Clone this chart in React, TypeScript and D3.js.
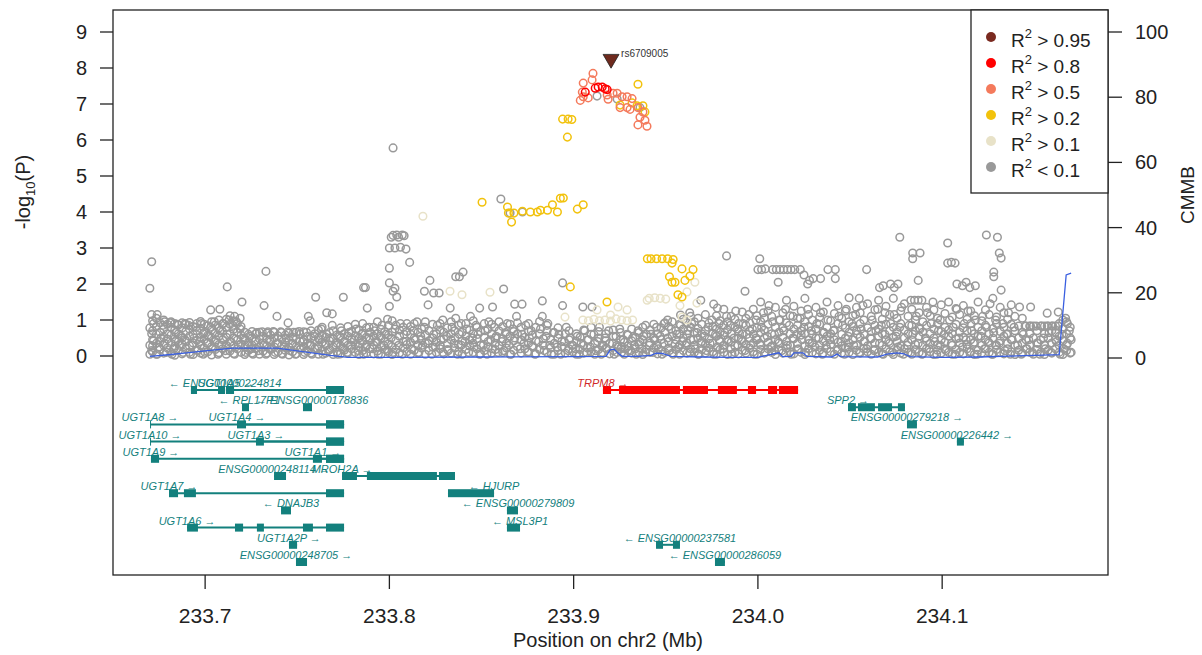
import React from "react";
import * as d3 from "d3";

// ---------- DATA ----------
// x in Mb (chr2), y in -log10(P)
const grayPts: [number, number][] = [
  [233.670,0.05],[233.671,0.15],[233.670,0.3],[233.672,0.42],[233.671,0.62],[233.670,0.78],[233.672,0.9],[233.671,1.15],[233.670,1.88],[233.671,2.62],[233.674,1.15],[233.674,0.05],[233.675,0.25],[233.676,0.5],[233.677,0.85],[233.678,0.95],[233.679,0.1],[233.678,0.35],
  [233.681,0.92],[233.682,0.05],[233.683,0.2],[233.684,0.4],[233.685,0.88],[233.686,0.3],[233.687,0.55],[233.688,0.1],[233.689,0.9],[233.689,0.45],[233.684,0.65],
  [233.691,0.85],[233.692,0.05],[233.693,0.3],[233.694,0.5],[233.695,0.8],[233.696,0.15],[233.697,0.4],[233.698,0.9],[233.699,0.62],[233.699,0.05],
  [233.700,0.1],[233.701,0.35],[233.702,0.55],[233.703,0.8],[233.703,1.28],[233.704,0.2],[233.705,0.95],[233.706,0.45],[233.707,0.05],[233.708,0.7],[233.708,1.3],[233.709,0.3],[233.710,0.9],
  [233.711,0.15],[233.712,1.92],[233.712,0.6],[233.713,1.0],[233.714,0.4],[233.715,0.85],[233.716,1.1],[233.716,0.05],[233.717,0.95],[233.718,0.3],[233.719,0.75],[233.719,1.05],[233.720,1.5],
  [233.721,0.5],[233.722,0.1],[233.723,0.3],[233.724,0.55],[233.725,0.2],[233.726,0.05],[233.727,0.4],[233.728,0.65],[233.729,0.15],
  [233.731,0.67],[233.732,1.4],[233.733,2.35],[233.732,0.3],[233.733,0.05],[233.734,0.67],[233.735,0.45],[233.736,0.2],[233.737,0.68],[233.738,0.1],[233.739,1.1],[233.739,0.35],
  [233.741,0.67],[233.742,0.05],[233.743,0.25],[233.744,0.5],[233.745,0.92],[233.745,0.67],[233.746,0.15],[233.747,0.35],[233.748,0.66],[233.749,0.05],
  [233.751,0.68],[233.752,0.2],[233.753,0.4],[233.754,0.1],[233.755,0.66],[233.756,1.1],[233.757,0.98],[233.757,0.3],[233.758,0.05],[233.759,0.55],[233.760,1.63],
  [233.761,0.2],[233.762,0.45],[233.763,0.75],[233.764,0.05],[233.765,0.35],[233.766,1.2],[233.766,0.6],[233.767,0.15],[233.768,0.5],[233.769,1.17],[233.769,0.85],
  [233.771,0.3],[233.772,0.05],[233.773,0.55],[233.774,0.7],[233.775,1.63],[233.775,0.2],[233.776,0.4],[233.777,0.1],[233.778,0.65],[233.779,0.3],
  [233.781,0.45],[233.782,0.75],[233.783,0.15],[233.784,0.35],[233.785,0.6],[233.786,1.9],[233.787,1.9],[233.788,1.33],[233.786,0.05],[233.787,0.25],[233.789,0.8],[233.789,0.5],
  [233.791,0.2],[233.792,0.7],[233.793,0.4],[233.794,0.05],[233.795,0.55],[233.796,0.85],[233.797,0.3],[233.798,0.6],[233.799,1.02],[233.799,0.15],
  [233.800,1.38],[233.800,2.03],[233.800,2.44],[233.800,3.0],[233.801,3.3],[233.802,3.35],[233.803,3.0],[233.804,3.36],[233.805,3.3],[233.806,3.02],[233.807,3.36],[233.808,3.34],[233.802,5.78],[233.803,1.88],[233.804,1.64],[233.802,1.8],[233.801,0.5],[233.802,0.1],[233.803,0.75],[233.805,0.3],[233.806,0.9],[233.807,0.05],[233.808,0.6],[233.809,0.4],[233.809,2.97],
  [233.811,2.6],[233.812,0.2],[233.813,0.7],[233.814,0.45],[233.815,0.95],[233.816,0.1],[233.817,0.55],[233.818,0.3],[233.819,1.8],[233.819,0.8],
  [233.821,1.42],[233.822,2.1],[233.824,1.75],[233.827,1.75],[233.821,0.35],[233.823,0.05],[233.824,0.6],[233.825,0.25],[233.826,0.85],[233.828,0.45],[233.829,0.1],[233.829,1.0],
  [233.833,1.33],[233.836,2.2],[233.838,2.2],[233.831,0.55],[233.832,0.15],[233.834,0.8],[233.835,0.35],[233.836,1.05],[233.837,0.05],[233.838,0.6],[233.839,0.3],[233.839,0.9],
  [233.840,2.33],[233.841,0.4],[233.842,0.75],[233.843,0.1],[233.844,1.1],[233.845,0.5],[233.846,0.25],[233.847,0.85],[233.848,0.6],[233.849,0.05],[233.849,1.33],
  [233.851,0.3],[233.852,0.7],[233.853,0.05],[233.854,0.95],[233.855,0.45],[233.856,1.36],[233.856,0.2],[233.857,0.8],[233.858,0.55],[233.859,0.1],
  [233.862,1.86],[233.868,1.44],[233.869,1.1],[233.861,0.4],[233.862,0.15],[233.863,0.65],[233.864,0.9],[233.865,0.3],[233.866,0.05],[233.867,0.75],[233.868,0.5],
  [233.872,1.44],[233.871,0.2],[233.872,0.6],[233.873,0.35],[233.874,0.85],[233.875,0.1],[233.876,0.5],[233.877,0.7],[233.878,0.25],[233.879,0.05],
  [233.883,1.53],[233.883,1.1],[233.881,0.4],[233.882,0.75],[233.884,0.15],[233.885,0.55],[233.886,0.9],[233.887,0.3],[233.888,0.05],[233.889,0.65],
  [233.894,2.03],[233.894,1.4],[233.891,0.25],[233.892,0.6],[233.893,0.05],[233.895,0.4],[233.896,0.8],[233.897,0.15],[233.898,0.5],[233.899,0.3],
  [233.905,1.36],[233.901,0.2],[233.902,0.55],[233.903,0.05],[233.904,0.35],[233.906,0.7],[233.907,0.1],[233.908,0.45],[233.909,0.25],
  [233.910,1.36],[233.911,0.6],[233.912,0.15],[233.913,0.4],[233.914,0.8],[233.915,0.05],[233.916,0.3],[233.917,0.5],[233.918,0.2],[233.919,0.7],
  [233.921,0.35],[233.922,0.05],[233.923,0.55],[233.924,0.25],[233.925,0.75],[233.926,0.1],[233.927,0.45],[233.928,0.2],[233.929,0.6],[233.926,0.25],
  [233.931,0.15],[233.932,0.5],[233.933,0.3],[233.934,0.05],[233.935,0.7],[233.936,0.4],[233.937,0.2],[233.938,0.55],[233.939,0.1],[233.939,0.85],
  [233.941,0.3],[233.942,0.6],[233.943,0.1],[233.944,0.45],[233.945,0.8],[233.946,0.2],[233.947,0.55],[233.948,0.05],[233.949,0.35],[233.949,0.9],
  [233.958,1.14],[233.955,0.33],[233.951,0.5],[233.952,0.15],[233.953,0.75],[233.954,0.05],[233.956,0.6],[233.957,0.25],[233.958,0.85],[233.959,0.4],[233.951,1.0],
  [233.969,1.55],[233.961,0.3],[233.962,0.7],[233.963,0.1],[233.964,0.9],[233.965,0.45],[233.966,0.2],[233.967,0.65],[233.968,0.05],[233.969,0.35],[233.963,1.2],
  [233.976,1.44],[233.978,1.33],[233.971,0.55],[233.972,0.15],[233.973,0.8],[233.974,0.35],[233.975,1.0],[233.976,0.05],[233.977,0.6],[233.978,0.25],[233.979,0.9],[233.979,0.45],
  [233.983,2.78],[233.981,0.2],[233.982,0.65],[233.983,1.1],[233.984,0.4],[233.985,0.85],[233.986,0.05],[233.987,0.5],[233.988,1.25],[233.989,0.3],[233.989,0.75],
  [233.993,1.8],[233.991,0.45],[233.992,0.9],[233.993,0.15],[233.994,0.6],[233.995,1.15],[233.996,0.3],[233.997,0.75],[233.998,0.05],[233.999,0.5],[233.999,1.0],
  [234.001,2.7],[234.000,2.4],[234.002,2.4],[234.004,2.42],[234.008,2.4],[234.001,0.35],[234.002,0.8],[234.003,1.2],[234.004,0.1],[234.005,0.55],[234.006,1.4],[234.007,0.25],[234.008,0.95],[234.009,0.6],[234.009,0.15],
  [234.011,2.05],[234.010,2.4],[234.012,2.4],[234.014,2.4],[234.016,2.4],[234.018,2.4],[234.011,0.4],[234.012,1.0],[234.013,0.15],[234.014,0.7],[234.015,1.3],[234.016,0.3],[234.017,0.85],[234.018,0.05],[234.019,0.5],[234.019,1.1],
  [234.020,2.4],[234.023,2.4],[234.025,2.25],[234.027,2.0],[234.028,2.1],[234.021,0.6],[234.022,0.2],[234.023,1.05],[234.024,0.45],[234.025,0.8],[234.026,0.1],[234.027,1.3],[234.028,0.35],[234.029,0.7],
  [234.030,2.15],[234.034,2.15],[234.038,2.4],[234.031,0.25],[234.032,0.9],[234.033,0.5],[234.034,1.2],[234.035,0.05],[234.036,0.65],[234.037,0.3],[234.038,1.0],[234.039,0.45],
  [234.042,2.4],[234.042,2.15],[234.041,0.7],[234.043,0.15],[234.044,1.1],[234.045,0.4],[234.046,0.85],[234.047,0.05],[234.048,1.3],[234.049,0.55],[234.049,0.25],
  [234.059,2.4],[234.051,0.9],[234.052,0.3],[234.053,1.15],[234.054,0.6],[234.055,0.1],[234.056,0.75],[234.057,1.4],[234.058,0.4],[234.059,0.2],[234.055,1.6],
  [234.068,1.95],[234.066,1.9],[234.061,0.5],[234.062,1.0],[234.063,0.15],[234.064,0.7],[234.065,1.3],[234.066,0.35],[234.067,0.85],[234.068,0.05],[234.069,0.6],[234.069,1.2],
  [234.077,3.3],[234.072,2.0],[234.074,1.9],[234.076,2.0],[234.071,0.4],[234.072,0.9],[234.073,0.1],[234.074,1.15],[234.075,0.55],[234.076,0.25],[234.077,0.8],[234.078,1.35],[234.079,0.05],
  [234.084,2.86],[234.088,2.86],[234.084,2.7],[234.087,2.1],[234.083,1.55],[234.085,1.55],[234.087,1.55],[234.089,1.55],[234.081,0.3],[234.082,0.85],[234.083,0.1],[234.084,0.6],[234.086,1.1],[234.087,0.35],[234.088,0.75],[234.089,0.05],
  [234.091,0.5],[234.092,1.2],[234.093,0.2],[234.094,0.9],[234.095,1.5],[234.096,0.4],[234.097,0.05],[234.098,0.7],[234.099,1.0],[234.099,0.3],
  [234.103,3.14],[234.103,2.58],[234.105,2.6],[234.107,2.58],[234.108,2.0],[234.101,0.6],[234.102,0.15],[234.104,1.0],[234.105,0.35],[234.106,0.8],[234.107,0.05],[234.108,1.3],[234.109,0.5],
  [234.111,1.95],[234.113,2.05],[234.115,1.9],[234.118,1.95],[234.111,0.25],[234.112,0.9],[234.113,0.45],[234.114,1.25],[234.115,0.1],[234.116,0.7],[234.117,0.35],[234.118,1.0],[234.119,0.05],
  [234.124,3.36],[234.128,2.33],[234.128,2.2],[234.121,0.55],[234.122,1.1],[234.123,0.2],[234.124,0.8],[234.125,0.4],[234.126,1.45],[234.127,0.05],[234.128,0.65],[234.129,0.3],[234.129,1.0],
  [234.130,3.3],[234.131,2.86],[234.132,2.72],[234.132,1.83],[234.131,0.35],[234.133,0.9],[234.134,0.15],[234.135,0.6],[234.136,1.2],[234.137,0.05],[234.138,0.45],[234.139,0.8],
  [234.142,1.36],[234.148,1.36],[234.141,0.3],[234.143,0.05],[234.144,0.6],[234.145,0.83],[234.146,0.2],[234.147,0.45],[234.148,0.83],[234.149,0.1],
  [234.157,1.19],[234.151,0.83],[234.152,0.35],[234.153,0.05],[234.154,0.83],[234.155,0.5],[234.156,0.2],[234.157,0.83],[234.158,0.65],[234.159,0.1],
  [234.163,1.22],[234.160,0.83],[234.162,0.4],[234.163,0.83],[234.164,0.05],[234.165,0.6],[234.166,0.2],[234.167,1.05],[234.168,0.9],[234.168,0.35],[234.169,0.7],[234.170,0.1],[234.170,0.45],
  [233.9127,7.22],[233.9236,7.14],[233.936,6.9],[233.8605,4.36],[233.8655,3.97],[233.8722,4.0],
];

// dense low-significance background: position -> list of -log10(P) values at that position
const grayColumns: [number, number[]][] = [
  [233.6715,[0.12,0.28,0.45,0.7,0.98]],[233.6735,[0.05,0.35,0.6,0.82,1.05]],[233.6755,[0.18,0.4,0.66,0.92]],[233.6775,[0.08,0.3,0.52,0.75,1.0]],
  [233.6795,[0.22,0.47,0.62,0.88]],[233.6815,[0.1,0.35,0.58,0.8,0.95]],[233.6835,[0.02,0.27,0.48,0.72,0.9]],[233.6855,[0.15,0.4,0.62,0.86]],
  [233.6875,[0.06,0.33,0.5,0.78,0.92]],[233.6895,[0.2,0.42,0.68,0.88]],[233.6915,[0.1,0.28,0.55,0.75,0.93]],[233.6935,[0.04,0.36,0.6,0.82]],
  [233.6955,[0.16,0.44,0.7,0.9]],[233.6975,[0.08,0.3,0.52,0.76,0.96]],[233.6995,[0.22,0.46,0.65,0.88]],[233.7015,[0.12,0.36,0.58,0.84]],
  [233.7035,[0.03,0.26,0.5,0.72,0.95]],[233.7055,[0.18,0.4,0.64,0.86]],[233.7075,[0.09,0.32,0.55,0.78,1.0]],[233.7095,[0.2,0.45,0.68,0.9]],
  [233.7115,[0.05,0.3,0.52,0.8,1.02]],[233.7135,[0.14,0.38,0.62,0.88,1.12]],[233.7155,[0.07,0.28,0.5,0.74,0.98]],[233.7175,[0.2,0.44,0.66,0.9]],
  [233.7195,[0.1,0.34,0.58,0.82]],[233.7215,[0.04,0.25,0.45,0.66]],[233.7235,[0.15,0.38,0.6]],[233.7255,[0.08,0.3,0.5,0.68]],
  [233.7275,[0.2,0.42,0.62]],[233.7295,[0.05,0.26,0.48,0.66]],[233.7315,[0.14,0.36,0.55]],[233.7335,[0.08,0.28,0.46,0.64]],
  [233.7355,[0.18,0.4,0.58]],[233.7375,[0.04,0.25,0.5,0.66]],[233.7395,[0.12,0.35,0.56]],[233.7415,[0.07,0.28,0.48,0.65]],
  [233.7435,[0.16,0.38,0.58]],[233.7455,[0.03,0.24,0.44,0.64]],[233.7475,[0.12,0.34,0.52]],[233.7495,[0.06,0.27,0.47,0.66]],
  [233.7515,[0.18,0.4,0.6]],[233.7535,[0.04,0.26,0.45,0.67]],[233.7555,[0.14,0.36,0.55]],[233.7575,[0.08,0.3,0.5,0.7]],
  [233.7595,[0.2,0.42,0.62]],[233.7615,[0.05,0.28,0.5,0.72]],[233.7635,[0.15,0.38,0.58,0.8]],[233.7655,[0.08,0.3,0.52]],
  [233.7675,[0.18,0.42,0.65]],[233.7695,[0.04,0.25,0.48,0.7]],[233.7715,[0.12,0.36,0.58]],[233.7735,[0.06,0.28,0.5,0.78]],
  [233.7755,[0.16,0.4,0.62]],[233.7775,[0.08,0.3,0.55,0.82]],[233.7795,[0.2,0.45,0.68]],[233.7815,[0.1,0.32,0.56,0.88]],
  [233.7835,[0.04,0.26,0.5,0.72]],[233.7855,[0.15,0.4,0.64,0.9]],[233.7875,[0.08,0.3,0.52,0.78]],[233.7895,[0.2,0.44,0.66]],
  [233.7915,[0.06,0.3,0.55,0.8]],[233.7935,[0.14,0.38,0.62,0.95]],[233.7955,[0.05,0.28,0.5,0.74]],[233.7975,[0.18,0.42,0.68]],
  [233.7995,[0.1,0.34,0.58,0.85]],[233.8015,[0.04,0.26,0.66,0.98]],[233.8035,[0.18,0.42,0.85]],[233.8055,[0.08,0.55,0.72]],
  [233.8075,[0.22,0.4,0.8]],[233.8095,[0.12,0.32,0.68,0.9]],[233.8115,[0.05,0.38,0.6,0.82]],[233.8135,[0.16,0.5,0.9]],
  [233.8155,[0.08,0.3,0.66]],[233.8175,[0.22,0.45,0.75]],[233.8195,[0.05,0.35,0.58,0.95]],[233.8215,[0.15,0.42,0.7]],
  [233.8235,[0.25,0.5,0.88]],[233.8255,[0.1,0.38,0.62]],[233.8275,[0.2,0.3,0.72,0.9]],[233.8295,[0.06,0.48,0.66]],
  [233.8315,[0.18,0.35,0.78]],[233.8335,[0.08,0.45,0.62,0.95]],[233.8355,[0.22,0.5,0.7]],[233.8375,[0.12,0.32,0.85]],
  [233.8395,[0.05,0.42,0.66]],[233.8415,[0.18,0.55,0.9]],[233.8435,[0.28,0.45,0.72]],[233.8455,[0.1,0.35,0.62,0.98]],
  [233.8475,[0.2,0.48,0.8]],[233.8495,[0.06,0.3,0.68]],[233.8515,[0.15,0.52,0.9]],[233.8535,[0.25,0.4,0.75]],
  [233.8555,[0.08,0.62,0.88]],[233.8575,[0.18,0.35,0.5]],[233.8595,[0.28,0.7,0.95]],[233.8615,[0.1,0.48,0.82]],
  [233.8635,[0.22,0.35,0.6]],[233.8655,[0.05,0.55,0.88]],[233.8675,[0.16,0.42,0.68]],[233.8695,[0.26,0.62,0.92]],
  [233.8715,[0.08,0.45,0.8]],[233.8735,[0.2,0.52]],[233.8755,[0.12,0.35,0.68,0.9]],[233.8775,[0.28,0.58]],
  [233.8795,[0.06,0.42,0.8]],[233.8815,[0.18,0.62,0.96]],[233.8835,[0.3,0.48]],[233.8855,[0.1,0.7,0.85]],
  [233.8875,[0.22,0.45]],[233.8895,[0.05,0.35,0.65]],[233.8915,[0.15,0.5,0.78]],[233.8935,[0.26,0.4]],
  [233.8955,[0.08,0.62]],[233.8975,[0.2,0.45,0.7]],[233.8995,[0.12,0.3]],[233.9015,[0.05,0.4,0.62]],
  [233.9035,[0.18,0.52]],[233.9055,[0.08,0.3,0.72]],[233.9075,[0.22,0.45]],[233.9095,[0.12,0.6,0.8]],
  [233.9115,[0.05,0.35]],[233.9135,[0.18,0.5,0.68]],[233.9155,[0.1,0.28]],[233.9175,[0.22,0.42,0.62]],
  [233.9195,[0.06,0.35]],[233.9215,[0.15,0.55,0.72]],[233.9235,[0.1,0.3]],[233.9255,[0.2,0.45,0.65]],
  [233.9275,[0.05,0.38]],[233.9295,[0.15,0.28,0.58]],[233.9315,[0.08,0.42,0.75]],[233.9335,[0.2,0.52]],
  [233.9355,[0.1,0.32,0.65]],[233.9375,[0.04,0.45,0.8]],[233.9395,[0.18,0.6]],[233.9415,[0.1,0.36,0.72]],
  [233.9435,[0.22,0.5,0.88]],[233.9455,[0.06,0.3,0.62]],[233.9475,[0.16,0.46,0.78]],[233.9495,[0.1,0.66,0.92]],
  [233.9515,[0.22,0.4,0.82]],[233.9535,[0.08,0.55,0.95]],[233.9555,[0.18,0.45,0.7]],[233.9575,[0.05,0.3,0.62,0.88]],
  [233.9595,[0.15,0.5,0.75,1.02]],[233.9615,[0.08,0.36,0.6,0.92]],[233.9635,[0.2,0.45,0.8,1.1]],[233.9655,[0.1,0.3,0.66,0.95]],
  [233.9675,[0.05,0.5,0.76,1.05]],[233.9695,[0.18,0.4,0.62,0.88]],[233.9715,[0.08,0.32,0.7,1.15]],[233.9735,[0.22,0.48,0.92]],
  [233.9755,[0.12,0.36,0.62,0.82]],[233.9775,[0.05,0.55,0.75,1.12]],[233.9795,[0.18,0.4,0.66,0.98]],[233.9815,[0.1,0.3,0.58,0.86,1.3]],
  [233.9835,[0.04,0.45,0.72,0.95]],[233.9855,[0.2,0.38,0.62,1.1]],[233.9875,[0.1,0.28,0.8,1.02]],[233.9895,[0.06,0.5,0.68,0.9]],
  [233.9915,[0.16,0.4,0.62,1.22]],[233.9935,[0.08,0.32,0.85,1.05]],[233.9955,[0.22,0.5,0.7,0.92]],[233.9975,[0.12,0.36,0.6,1.3]],
  [233.9995,[0.05,0.45,0.78,1.12]],[234.0015,[0.18,0.3,0.65,0.96,1.5]],[234.0035,[0.08,0.5,0.72,1.05]],[234.0055,[0.2,0.38,0.88,1.25]],
  [234.0075,[0.1,0.28,0.62,1.1]],[234.0095,[0.04,0.45,0.8,1.35]],[234.0115,[0.16,0.36,0.66,1.0]],[234.0135,[0.08,0.52,0.78,1.2]],
  [234.0155,[0.22,0.4,0.92,1.55]],[234.0175,[0.12,0.3,0.62,1.12]],[234.0195,[0.06,0.48,0.75,1.38]],[234.0215,[0.18,0.35,0.85,1.05]],
  [234.0235,[0.1,0.58,0.7,1.25]],[234.0255,[0.04,0.28,0.62,0.95,1.6]],[234.0275,[0.2,0.45,0.82,1.15]],[234.0295,[0.1,0.36,0.6,1.0]],
  [234.0315,[0.06,0.5,0.75,1.35]],[234.0335,[0.16,0.3,0.88,1.08]],[234.0355,[0.08,0.42,0.66,1.22]],[234.0375,[0.2,0.55,0.8,1.5]],
  [234.0395,[0.12,0.32,0.62,0.98]],[234.0415,[0.05,0.45,0.72,1.18]],[234.0435,[0.18,0.38,0.9,1.4]],[234.0455,[0.08,0.28,0.6,1.05]],
  [234.0475,[0.22,0.5,0.78,1.25]],[234.0495,[0.1,0.36,0.66,0.95,1.62]],[234.0515,[0.04,0.45,0.82,1.12]],[234.0535,[0.16,0.3,0.7,1.35]],
  [234.0555,[0.08,0.52,0.9,1.2]],[234.0575,[0.2,0.4,0.62,1.0]],[234.0595,[0.12,0.28,0.78,1.45]],[234.0615,[0.05,0.48,0.68,1.1]],
  [234.0635,[0.18,0.36,0.85,1.28]],[234.0655,[0.1,0.55,0.75,1.55]],[234.0675,[0.06,0.3,0.62,1.02]],[234.0695,[0.2,0.45,0.88,1.38]],
  [234.0715,[0.12,0.35,0.7,1.15]],[234.0735,[0.04,0.52,0.8,1.6]],[234.0755,[0.16,0.4,0.66,1.05]],[234.0775,[0.08,0.28,0.9,1.25]],
  [234.0795,[0.2,0.5,0.72,1.45]],[234.0815,[0.1,0.38,0.62,1.1]],[234.0835,[0.05,0.45,0.85,1.3]],[234.0855,[0.18,0.32,0.7,1.0]],
  [234.0875,[0.1,0.55,0.78,1.2]],[234.0895,[0.06,0.3,0.66,0.95]],[234.0915,[0.2,0.42,0.85,1.35]],[234.0935,[0.12,0.35,0.62,1.12]],
  [234.0955,[0.04,0.5,0.75,1.28]],[234.0975,[0.16,0.3,0.9,1.05]],[234.0995,[0.08,0.45,0.68,1.42]],[234.1015,[0.2,0.38,0.8,1.18]],
  [234.1035,[0.1,0.55,0.72,1.5]],[234.1055,[0.05,0.3,0.62,1.08]],[234.1075,[0.18,0.48,0.88,1.32]],[234.1095,[0.1,0.36,0.66,1.15]],
  [234.1115,[0.06,0.52,0.78,1.4]],[234.1135,[0.2,0.32,0.7,1.02]],[234.1155,[0.12,0.45,0.9,1.25]],[234.1175,[0.04,0.38,0.62,1.12]],
  [234.1195,[0.16,0.55,0.8,1.5]],[234.1215,[0.08,0.3,0.7,0.98]],[234.1235,[0.2,0.45,0.85,1.28]],[234.1255,[0.1,0.36,0.62,1.15]],
  [234.1275,[0.05,0.5,0.76,1.6]],[234.1295,[0.18,0.3,0.9,1.08]],[234.1315,[0.1,0.42,0.68,1.35]],[234.1335,[0.06,0.55,0.8,1.2]],
  [234.1355,[0.2,0.35,0.62,1.02]],[234.1375,[0.12,0.45,0.88,1.42]],[234.1395,[0.04,0.3,0.7,1.1]],[234.1415,[0.16,0.5,0.83]],
  [234.1435,[0.08,0.36,0.66,1.05]],[234.1455,[0.2,0.45,0.83]],[234.1475,[0.1,0.3,0.62,0.83]],[234.1495,[0.05,0.5,0.83]],
  [234.1515,[0.18,0.36,0.7]],[234.1535,[0.1,0.45,0.83]],[234.1555,[0.04,0.3,0.62,0.83]],[234.1575,[0.16,0.5,0.83]],
  [234.1595,[0.08,0.36,0.7,0.83]],[234.1615,[0.2,0.45,0.65,0.83]],[234.1635,[0.1,0.3,0.55,0.9]],[234.1655,[0.04,0.42,0.75,1.0]],
  [234.1675,[0.15,0.3,0.62,0.95]],[234.1695,[0.08,0.5,0.8]],
];

const beigePts: [number, number][] = [
  [233.8182,3.88],[233.8329,1.8],[233.8394,1.7],[233.8546,1.77],[233.8953,1.08],
  [233.905,1.0],[233.908,0.98],[233.911,1.02],[233.914,0.98],[233.917,1.0],[233.920,0.97],[233.923,1.03],[233.926,1.0],[233.929,0.98],[233.932,1.0],
  [233.9127,1.28],[233.9241,1.36],[233.929,1.28],[233.920,1.14],[233.9399,1.55],
  [233.941,1.6],[233.944,1.62],[233.947,1.6],[233.950,1.58],
  [233.9658,2.05],[233.9615,1.78],[233.9577,1.4],[233.9588,1.08],[233.9669,1.47],[233.9615,1.0],
];

const yellowPts: [number, number][] = [
  [233.8503,4.27],[233.8641,4.14],[233.8646,3.97],[233.8663,3.72],[233.8676,3.97],[233.8722,4.02],[233.8765,4.0],[233.8803,4.0],[233.8820,4.05],
  [233.8858,4.05],[233.8885,4.2],[233.8912,4.0],[233.8928,4.38],[233.8944,4.39],[233.9020,4.08],[233.9052,4.2],
  [233.894,6.58],[233.897,6.58],[233.899,6.57],[233.8966,6.08],[233.9349,7.55],
  [233.9252,6.97],[233.9317,7.03],[233.9344,6.95],[233.9376,6.95],[233.9387,6.78],
  [233.940,2.7],[233.942,2.7],[233.945,2.7],[233.948,2.7],[233.951,2.7],[233.954,2.68],[233.9534,2.58],[233.9588,2.42],[233.9648,2.4],
  [233.9631,2.22],[233.952,2.2],[233.9534,2.05],[233.955,2.05],[233.9604,2.1],[233.9566,1.7],[233.9588,1.64],[233.9181,1.5],[233.8982,1.92],
];

const salmonPts: [number, number][] = [
  [233.9105,7.85],[233.910,7.67],[233.9052,7.58],[233.9047,7.33],[233.9036,7.1],[233.9052,7.2],[233.9079,7.17],[233.9182,7.25],[233.9187,7.13],
  [233.9214,7.3],[233.9236,7.3],[233.9263,7.2],[233.929,7.2],[233.9317,7.15],[233.9252,6.9],[233.929,6.9],[233.9306,6.85],[233.9349,6.9],
  [233.9376,6.78],[233.9387,6.55],[233.9398,6.38],[233.9349,6.42],[233.936,6.63],
];

const redPts: [number, number][] = [
  [233.9063,7.33],[233.9117,7.44],[233.9133,7.47],[233.9155,7.47],[233.9171,7.42],[233.9182,7.4],
];

const leadSnp = { name: "rs6709005", pos: 233.9203, logp: 8.25 };

// recombination rate (cM/Mb)
const recomb: [number, number][] = [
  [233.670,0.5],[233.680,1.0],[233.690,1.6],[233.700,2.2],[233.715,3.0],[233.739,3.0],[233.768,0.8],[233.7775,0.2],
  [233.800,0.2],[233.850,0.3],[233.900,0.4],[233.9176,0.5],[233.9198,2.5],[233.9220,2.7],[233.9241,1.5],[233.9263,0.5],
  [233.935,0.5],[233.942,0.8],[233.9447,1.5],[233.948,1.4],[233.953,0.5],[233.970,0.3],[233.985,0.2],[234.000,0.2],
  [234.0114,1.6],[234.0135,0.4],[234.018,0.5],[234.0196,1.6],[234.0245,1.6],[234.0266,0.5],[234.040,0.3],[234.043,1.2],[234.045,0.4],
  [234.065,0.3],[234.070,1.2],[234.0755,1.6],[234.0793,1.3],[234.0825,0.4],[234.100,0.2],[234.120,0.3],[234.150,0.8],
  [234.1635,1.0],[234.1673,25.5],[234.170,26.0],
];

type Gene = { name: string; strand: 1 | -1; row: number; start: number; end: number; exons: [number, number][]; hl?: boolean };
const UGT_END: [number, number] = [233.7656, 233.7754];
const genes: Gene[] = [
  { name: "ENSG00000224814", strand: -1, row: 0, start: 233.6923, end: 233.7108, exons: [[233.6923,233.6956],[233.7070,233.7108]] },
  { name: "UGT1A5", strand: 1, row: 0, start: 233.7113, end: 233.7754, exons: [[233.7113,233.7157], UGT_END] },
  { name: "TRPM8", strand: 1, row: 0, start: 233.9159, end: 234.0218, hl: true, exons: [[233.9159,233.9203],[233.9246,233.9577],[233.9593,233.9729],[233.9783,233.9886],[233.9946,233.9990],[234.0055,234.0104],[234.0114,234.0218]] },
  { name: "RPL17P1", strand: -1, row: 1, start: 233.7200, end: 233.7238, exons: [[233.7200,233.7238]] },
  { name: "ENSG00000178836", strand: -1, row: 1, start: 233.7531, end: 233.7580, exons: [[233.7531,233.7580]] },
  { name: "SPP2", strand: 1, row: 1, start: 234.0489, end: 234.0798, exons: [[234.0489,234.0532],[234.0543,234.0635],[234.0652,234.0728],[234.0760,234.0798]] },
  { name: "UGT1A8", strand: 1, row: 2, start: 233.6701, end: 233.7754, exons: [[233.6701,233.6706], UGT_END] },
  { name: "UGT1A4", strand: 1, row: 2, start: 233.7173, end: 233.7754, exons: [[233.7173,233.7222], UGT_END] },
  { name: "ENSG00000279218", strand: 1, row: 2, start: 234.0809, end: 234.0863, exons: [[234.0809,234.0863]] },
  { name: "UGT1A10", strand: 1, row: 3, start: 233.6701, end: 233.7754, exons: [[233.6701,233.6706], UGT_END] },
  { name: "UGT1A3", strand: 1, row: 3, start: 233.7276, end: 233.7754, exons: [[233.7276,233.7319], UGT_END] },
  { name: "ENSG00000226442", strand: 1, row: 3, start: 234.1080, end: 234.1118, exons: [[234.1080,234.1118]] },
  { name: "UGT1A9", strand: 1, row: 4, start: 233.6706, end: 233.7754, exons: [[233.6706,233.6750], UGT_END] },
  { name: "UGT1A1", strand: 1, row: 4, start: 233.7585, end: 233.7754, exons: [[233.7585,233.7634], UGT_END] },
  { name: "ENSG00000248114", strand: 1, row: 5, start: 233.7374, end: 233.7439, exons: [[233.7374,233.7439]] },
  { name: "MROH2A", strand: 1, row: 5, start: 233.7743, end: 233.8356, exons: [[233.7743,233.7824],[233.7878,233.8258],[233.8269,233.8356]] },
  { name: "UGT1A7", strand: 1, row: 6, start: 233.6804, end: 233.7754, exons: [[233.6804,233.6853],[233.6885,233.6950], UGT_END] },
  { name: "HJURP", strand: -1, row: 6, start: 233.8318, end: 233.8568, exons: [[233.8318,233.8568]] },
  { name: "DNAJB3", strand: -1, row: 7, start: 233.7412, end: 233.7466, exons: [[233.7412,233.7466]] },
  { name: "ENSG00000279809", strand: -1, row: 7, start: 233.8638, end: 233.8698, exons: [[233.8638,233.8698]] },
  { name: "UGT1A6", strand: 1, row: 8, start: 233.6902, end: 233.7754, exons: [[233.6902,233.6961],[233.7162,233.7206],[233.7281,233.7319],[233.7531,233.7585], UGT_END] },
  { name: "MSL3P1", strand: -1, row: 8, start: 233.8638, end: 233.8709, exons: [[233.8638,233.8709]] },
  { name: "UGT1A2P", strand: 1, row: 9, start: 233.7455, end: 233.7499, exons: [[233.7455,233.7499]] },
  { name: "ENSG00000237581", strand: -1, row: 9, start: 233.9447, end: 233.9577, exons: [[233.9447,233.9485],[233.9539,233.9577]] },
  { name: "ENSG00000248705", strand: 1, row: 10, start: 233.7493, end: 233.7553, exons: [[233.7493,233.7553]] },
  { name: "ENSG00000286059", strand: -1, row: 10, start: 233.9767, end: 233.9821, exons: [[233.9767,233.9821]] },
];

const xTicks = [233.7, 233.8, 233.9, 234.0, 234.1];
const yTicks = [0, 1, 2, 3, 4, 5, 6, 7, 8, 9];
const yRTicks = [0, 20, 40, 60, 80, 100];
const legendLabels = ["> 0.95", "> 0.8", "> 0.5", "> 0.2", "> 0.1", "< 0.1"];
const legendColors = ["#7a2a20", "#ff0000", "#f47a5c", "#f2c20c", "#e8e2c8", "#999999"];

// ---------- CHART ----------
const W = 1202, H = 655;
const F = { l: 113, r: 1108, t: 10, b: 575 };
const FONT = "'Liberation Sans', Arial, Helvetica, sans-serif";

export default function App() {
  const x = d3.scaleLinear().domain([233.65, 234.19]).range([F.l, F.r]);
  const y = d3.scaleLinear().domain([0, 9]).range([356, 32]);
  const yR = d3.scaleLinear().domain([0, 100]).range([358, 32]);
  const rowY = d3.scaleLinear().domain([0, 10]).range([390, 562]);
  const recombPath = d3.line<[number, number]>().x(d => x(d[0])).y(d => yR(d[1]))(recomb) || "";
  const teal = "#13807d";

  const densePts: [number, number][] = grayColumns.flatMap(([pos, vals]) => vals.map(v => [pos, v] as [number, number]));

  const dots = (pts: [number, number][], color: string, key: string) =>
    pts.map((d, i) => (
      <circle key={key + i} cx={x(d[0])} cy={y(d[1])} r={3.8} fill="none" stroke={color} strokeWidth={1.5} />
    ));

  const tri = d3.symbol().type(d3.symbolTriangle).size(110)() || "";

  return (
    <svg width={W} height={H} style={{ position: "absolute", left: 0, top: 0, background: "#fff" }} fontFamily={FONT}>
      <rect x={0} y={0} width={W} height={H} fill="#fff" />
      {/* points */}
      {dots(densePts, legendColors[5], "d")}
      {dots(grayPts, legendColors[5], "g")}
      {dots(beigePts, legendColors[4], "b")}
      {dots(yellowPts, legendColors[3], "y")}
      {dots(salmonPts, legendColors[2], "s")}
      {dots(redPts, legendColors[1], "r")}
      {/* recombination line */}
      <path d={recombPath} fill="none" stroke="#3a5fe0" strokeWidth={1.3} />
      <path d={tri} transform={`translate(${x(leadSnp.pos)},${y(leadSnp.logp)}) rotate(180)`} fill="#6e2a1e" stroke="#222" strokeWidth={0.8} />
      <text x={x(leadSnp.pos) + 10} y={y(leadSnp.logp) - 2} fontSize={10} fill="#333">{leadSnp.name}</text>

      {/* genes */}
      {genes.map((g, i) => {
        const gy = rowY(g.row);
        const col = g.hl ? "#ff0000" : teal;
        const tcol = g.hl ? "#d02828" : teal;
        const label = g.strand === 1 ? `${g.name} →` : `← ${g.name}`;
        const lx = x(g.strand === 1 ? g.start : g.end);
        return (
          <g key={"gene" + i}>
            <line x1={x(g.start)} x2={x(g.end)} y1={gy} y2={gy} stroke={col} strokeWidth={2} />
            {g.exons.map((e, j) => (
              <rect key={j} x={x(e[0])} y={gy - 4} width={Math.max(1, x(e[1]) - x(e[0]))} height={8} fill={col} />
            ))}
            <text x={lx} y={gy - 3} fontSize={11} fontStyle="italic" textAnchor="middle" fill={tcol}>{label}</text>
          </g>
        );
      })}

      {/* frame */}
      <rect x={F.l} y={F.t} width={F.r - F.l} height={F.b - F.t} fill="none" stroke="#222" strokeWidth={1.3} />

      {/* left axis */}
      {yTicks.map(t => (
        <g key={"yt" + t}>
          <line x1={F.l - 13} x2={F.l} y1={y(t)} y2={y(t)} stroke="#222" strokeWidth={1.3} />
          <text x={F.l - 26} y={y(t) + 7} fontSize={20} textAnchor="end" fill="#222">{t}</text>
        </g>
      ))}
      <text transform={`translate(30,192) rotate(-90)`} fontSize={20} textAnchor="middle" fill="#222">
        -log<tspan fontSize={13} dy={5}>10</tspan><tspan dy={-5}>(P)</tspan>
      </text>

      {/* right axis */}
      {yRTicks.map(t => (
        <g key={"yr" + t}>
          <line x1={F.r} x2={F.r + 14} y1={yR(t)} y2={yR(t)} stroke="#222" strokeWidth={1.3} />
          <text x={F.r + 27} y={yR(t) + 7} fontSize={20} textAnchor="start" fill="#222">{t}</text>
        </g>
      ))}
      <text transform={`translate(1194,195) rotate(-90)`} fontSize={19} textAnchor="middle" fill="#222">CMMB</text>

      {/* bottom axis */}
      {xTicks.map(t => (
        <g key={"xt" + t}>
          <line x1={x(t)} x2={x(t)} y1={F.b} y2={F.b + 14} stroke="#222" strokeWidth={1.3} />
          <text x={x(t)} y={623} fontSize={21} textAnchor="middle" fill="#222">{t.toFixed(1)}</text>
        </g>
      ))}
      <text x={608} y={647} fontSize={20} textAnchor="middle" fill="#222">Position on chr2 (Mb)</text>

      {/* legend */}
      <rect x={971} y={F.t} width={F.r - 971} height={183} fill="#fff" stroke="#222" strokeWidth={1.3} />
      {legendLabels.map((lab, i) => {
        const ly = 37 + i * 26;
        return (
          <g key={"lg" + i}>
            <circle cx={991} cy={ly} r={5} fill={legendColors[i]} />
            <text x={1011} y={ly + 10} fontSize={19} fill="#222">
              R<tspan fontSize={13} dy={-9}>2</tspan><tspan dy={9} fontSize={19}>{" " + lab}</tspan>
            </text>
          </g>
        );
      })}
    </svg>
  );
}
